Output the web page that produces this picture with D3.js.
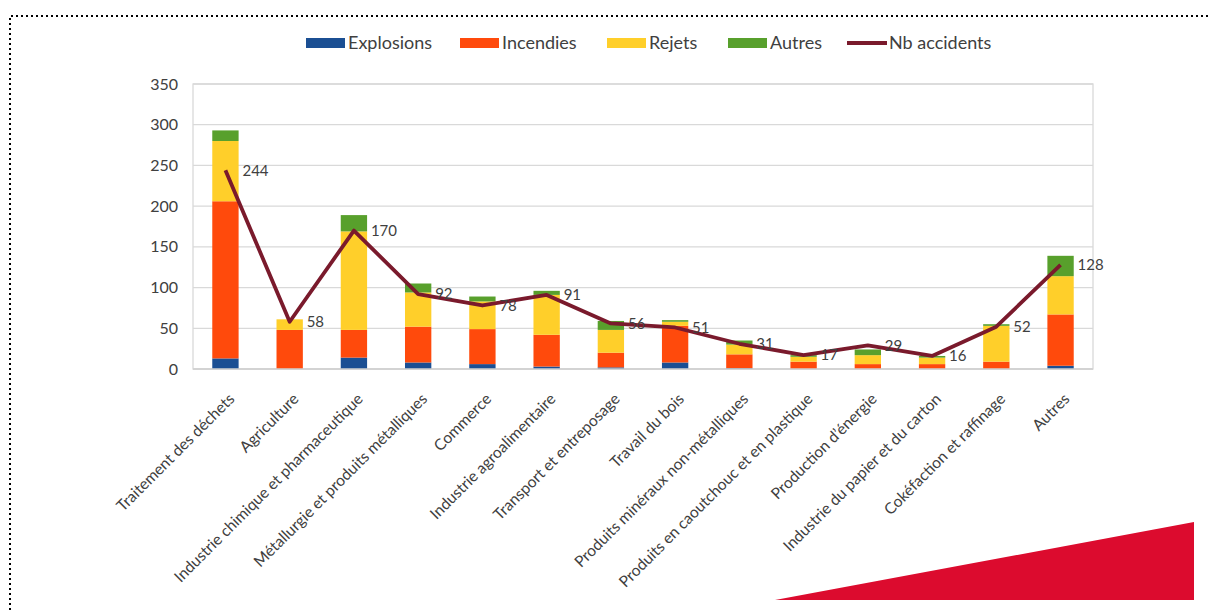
<!DOCTYPE html>
<html>
<head>
<meta charset="utf-8">
<script src="https://cdn.jsdelivr.net/npm/d3@7"></script>
<style>
  body { margin: 0; background: #fff; }
  svg text { font-family: Lato, "Open Sans", sans-serif; fill: #404040; }
</style>
</head>
<body>
<div id="chart"></div>
<script>
// categories & values
var categories = ["Traitement des déchets", "Agriculture", "Industrie chimique et pharmaceutique",
  "Métallurgie et produits métalliques", "Commerce", "Industrie agroalimentaire",
  "Transport et entreposage", "Travail du bois", "Produits minéraux non-métalliques",
  "Produits en caoutchouc et en plastique", "Production d’énergie", "Industrie du papier et du carton",
  "Cokéfaction et raffinage", "Autres"];
var explosions = [13, 0, 14, 8, 6, 3, 2, 8, 1, 0, 0, 0, 0, 4];
var incendies  = [193, 48, 34, 44, 43, 39, 18, 45, 17, 9, 6, 6, 9, 63];
var rejets     = [74, 13, 121, 42, 34, 49, 28, 5, 12, 6, 11, 8, 44, 47];
var autres     = [13, 0, 20, 11, 6, 5, 11, 2, 5, 2, 7, 2, 2, 25];
var nbAccidents = [244, 58, 170, 92, 78, 91, 56, 51, 31, 17, 29, 16, 52, 128];
var yTicks = [0, 50, 100, 150, 200, 250, 300, 350];

var seriesNames = ["Explosions", "Incendies", "Rejets", "Autres"];
var seriesColors = ["#1b4f93", "#ff4a0c", "#ffcf2a", "#58a02c"];
var lineColor = "#7a1a2c";

var svgWidth = 1211;
var svgHeight = 610;
var plot = { left: 193, right: 1093, top: 84, bottom: 369 };

var svg = d3.select("#chart")
  .append("svg")
  .attr("width", svgWidth)
  .attr("height", svgHeight);

// dotted frame of the page
svg.append("path")
  .attr("d", `M10,${svgHeight} V16 H${svgWidth}`)
  .attr("fill", "none")
  .attr("stroke", "#000")
  .attr("stroke-width", 2)
  .attr("stroke-dasharray", "2,3");

// red corner shape
svg.append("polygon")
  .attr("points", "775,600 1194,522 1194,600")
  .attr("fill", "#dc0b2e");

// table for the stack
var rows = categories.map(function(c, i) {
  return { cat: c, Explosions: explosions[i], Incendies: incendies[i], Rejets: rejets[i], Autres: autres[i] };
});
var stacked = d3.stack().keys(seriesNames)(rows);

var x = d3.scaleBand()
  .domain(categories)
  .range([plot.left, plot.right])
  .paddingInner(0.59)
  .paddingOuter(0.3);

var y = d3.scaleLinear()
  .domain([0, 350])
  .range([plot.bottom, plot.top]);

// gridlines
svg.append("g")
  .selectAll("line")
  .data(yTicks)
  .enter()
  .append("line")
  .attr("x1", plot.left)
  .attr("x2", plot.right)
  .attr("y1", d => y(d))
  .attr("y2", d => y(d))
  .attr("stroke", "#d9d9d9")
  .attr("stroke-width", 1.3);

// plot area border
svg.append("rect")
  .attr("x", plot.left)
  .attr("y", plot.top)
  .attr("width", plot.right - plot.left)
  .attr("height", plot.bottom - plot.top)
  .attr("fill", "none")
  .attr("stroke", "#d9d9d9")
  .attr("stroke-width", 1.3);

// y axis labels
var leftAxis = d3.axisLeft(y).tickValues(yTicks).tickSize(0).tickPadding(15);
var yAxis = svg.append("g")
  .attr("transform", `translate(${plot.left}, 0)`)
  .call(leftAxis);
yAxis.select(".domain").remove();
yAxis.selectAll("text")
  .style("font-size", "16px")
  .attr("fill", "#404040");

// stacked bars
svg.append("g")
  .selectAll("g")
  .data(stacked)
  .enter()
  .append("g")
  .attr("fill", (d, i) => seriesColors[i])
  .selectAll("rect")
  .data(d => d)
  .enter()
  .append("rect")
  .attr("x", d => x(d.data.cat))
  .attr("y", d => y(d[1]))
  .attr("width", x.bandwidth())
  .attr("height", d => y(d[0]) - y(d[1]));

// x axis baseline
svg.append("line")
  .attr("x1", plot.left)
  .attr("x2", plot.right)
  .attr("y1", plot.bottom)
  .attr("y2", plot.bottom)
  .attr("stroke", "#d0d0d0")
  .attr("stroke-width", 1.3);

// x labels
var cx = d => x(d) + x.bandwidth() / 2;
svg.append("g")
  .selectAll("text")
  .data(categories)
  .enter()
  .append("text")
  .attr("transform", d => `translate(${cx(d) + 10}, 400) rotate(-45)`)
  .attr("text-anchor", "end")
  .style("font-size", "15.6px")
  .text(d => d);

// Nb accidents line
var line = d3.line()
  .x((d, i) => cx(categories[i]))
  .y(d => y(d));

svg.append("path")
  .datum(nbAccidents)
  .attr("d", line)
  .attr("fill", "none")
  .attr("stroke", lineColor)
  .attr("stroke-width", 3.8)
  .attr("stroke-linejoin", "round");

// value labels
svg.append("g")
  .selectAll("text")
  .data(nbAccidents)
  .enter()
  .append("text")
  .attr("x", (d, i) => cx(categories[i]) + 17)
  .attr("y", d => y(d))
  .attr("dy", "0.35em")
  .style("font-size", "15px")
  .text(d => d);

// legend
var legendX = [306, 460, 607, 728, 847];
var legendItems = seriesNames.concat(["Nb accidents"]);
var legend = svg.append("g");
legendItems.forEach(function(name, i) {
  var g = legend.append("g").attr("transform", `translate(${legendX[i]}, 43)`);
  if (i < 4) {
    g.append("rect")
      .attr("x", 0)
      .attr("y", -5)
      .attr("width", 39)
      .attr("height", 10)
      .attr("fill", seriesColors[i]);
  } else {
    g.append("line")
      .attr("x1", 0)
      .attr("x2", 40)
      .attr("stroke", lineColor)
      .attr("stroke-width", 3.8);
  }
  g.append("text")
    .attr("x", 42)
    .attr("dy", "0.35em")
    .style("font-size", "18px")
    .text(name);
});
</script>
</body>
</html>
